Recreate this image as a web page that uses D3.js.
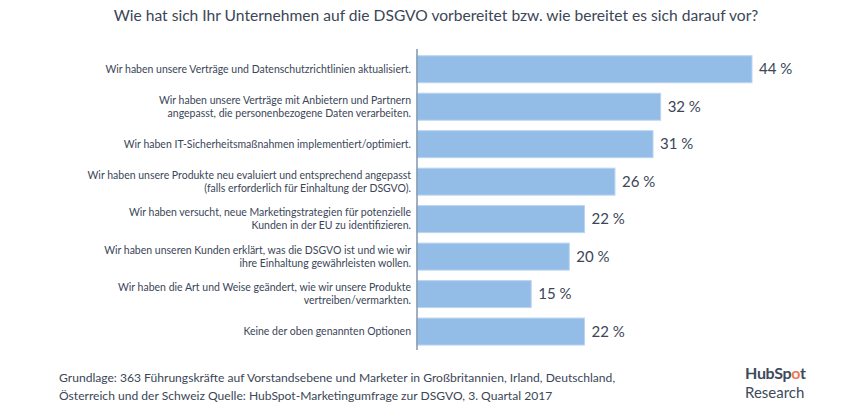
<!DOCTYPE html>
<html><head><meta charset="utf-8">
<script src="https://cdn.jsdelivr.net/npm/d3@7"></script>
<style>
html,body{margin:0;padding:0;background:#fff;}
text{font-family:Lato,"Open Sans",sans-serif;}
</style></head>
<body>
<svg id="chart" width="865" height="418"></svg>
<script>
const title = "Wie hat sich Ihr Unternehmen auf die DSGVO vorbereitet bzw. wie bereitet es sich darauf vor?";
const categories = [
  ["Wir haben unsere Verträge und Datenschutzrichtlinien aktualisiert."],
  ["Wir haben unsere Verträge mit Anbietern und Partnern", "angepasst, die personenbezogene Daten verarbeiten."],
  ["Wir haben IT-Sicherheitsmaßnahmen implementiert/optimiert."],
  ["Wir haben unsere Produkte neu evaluiert und entsprechend angepasst", "(falls erforderlich für Einhaltung der DSGVO)."],
  ["Wir haben versucht, neue Marketingstrategien für potenzielle", "Kunden in der EU zu identifizieren."],
  ["Wir haben unseren Kunden erklärt, was die DSGVO ist und wie wir", "ihre Einhaltung gewährleisten wollen."],
  ["Wir haben die Art und Weise geändert, wie wir unsere Produkte", "vertreiben/vermarkten."],
  ["Keine der oben genannten Optionen"]
];
const values = [44, 32, 31, 26, 22, 20, 15, 22];
const footerLines = [
  "Grundlage: 363 Führungskräfte auf Vorstandsebene und Marketer in Großbritannien, Irland, Deutschland,",
  "Österreich und der Schweiz Quelle: HubSpot-Marketingumfrage zur DSGVO, 3. Quartal 2017"
];

const svg = d3.select("#chart");
const textCol = "#3b4657";
const ids = categories.map((c, i) => i);

const x = d3.scaleLinear().domain([0, 44]).range([417, 752]);
const y = d3.scaleBand().domain(ids).range([50.5, 350.3]).paddingInner(0.28).paddingOuter(0.14);

// title
svg.append("text").attr("x", 436).attr("y", 21).attr("text-anchor", "middle")
  .attr("font-size", 15.6).attr("fill", textCol).text(title);

// bars
svg.selectAll("rect.bar").data(values).join("rect").attr("class", "bar")
  .attr("x", x(0)).attr("y", (d, i) => y(i))
  .attr("width", d => x(d) - x(0)).attr("height", y.bandwidth())
  .attr("fill", "#93bde6").attr("stroke", "#b9d5f0").attr("stroke-width", 1);

// axis line
svg.append("line").attr("x1", x(0)).attr("x2", x(0)).attr("y1", 49).attr("y2", 350)
  .attr("stroke", "#8297ae").attr("stroke-width", 1.5);

// value labels
svg.selectAll("text.val").data(values).join("text").attr("class", "val")
  .attr("x", d => x(d) + 7).attr("y", (d, i) => y(i) + y.bandwidth() / 2)
  .attr("dy", "0.35em").attr("font-size", 15).attr("fill", textCol)
  .text(d => d + " %");

// category labels
const lbl = svg.selectAll("text.cat").data(categories).join("text").attr("class", "cat")
  .attr("text-anchor", "end").attr("font-size", 10.5).attr("fill", textCol)
  .attr("x", 411).attr("y", (d, i) => y(i) + y.bandwidth() / 2);
lbl.each(function(lines) {
  const t = d3.select(this);
  const n = lines.length;
  lines.forEach((l, k) => {
    t.append("tspan").attr("x", 411)
      .attr("dy", k === 0 ? (0.35 * 10.5 - (n - 1) * 6.5) + "px" : "13px")
      .text(l);
  });
});

// footer
footerLines.forEach((l, k) => {
  svg.append("text").attr("x", 59).attr("y", 382 + k * 17.5)
    .attr("font-size", 12.1).attr("fill", textCol).text(l);
});

// logo
const logo = svg.append("text").attr("x", 745).attr("y", 379)
  .attr("font-size", 16).attr("font-weight", "bold").attr("fill", "#3d4a5c")
  .attr("letter-spacing", "-0.3");
logo.append("tspan").text("HubSp");
logo.append("tspan").attr("fill", "#f07a55").text("o");
logo.append("tspan").text("t");
svg.append("text").attr("x", 745).attr("y", 398).attr("font-size", 15)
  .attr("fill", "#3d4a5c").text("Research");
</script>
</body></html>
